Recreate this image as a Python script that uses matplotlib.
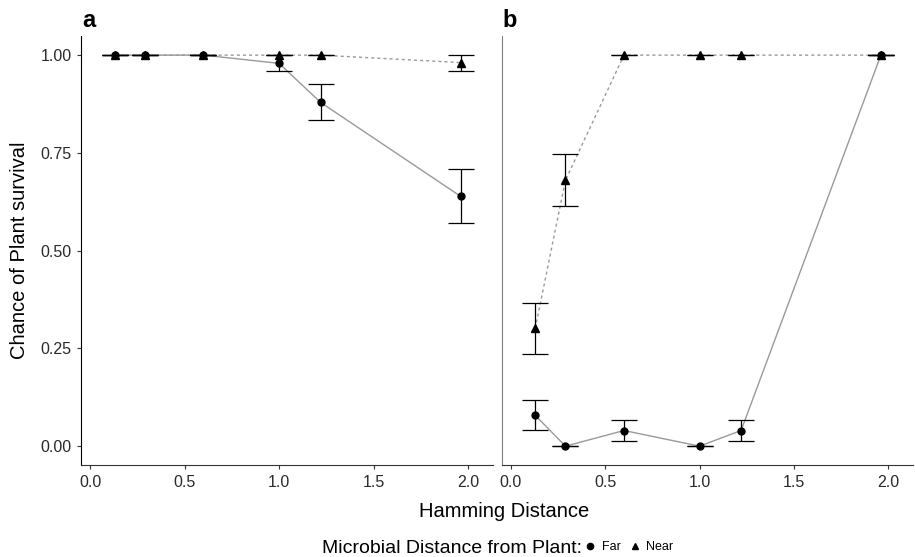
import matplotlib
matplotlib.use("Agg")
import matplotlib.pyplot as plt
from matplotlib.lines import Line2D

plt.rcParams["font.family"] = ["Liberation Sans", "DejaVu Sans"]

# ================================
# data
# ================================
hamming = [0.13, 0.29, 0.60, 1.00, 1.22, 1.96]

# panel a
a_far = [1.00, 1.00, 1.00, 0.979, 0.879, 0.639]
a_far_lo = [1.00, 1.00, 1.00, 0.959, 0.834, 0.571]
a_far_hi = [1.00, 1.00, 1.00, 1.00, 0.926, 0.708]
a_near = [1.00, 1.00, 1.00, 1.00, 1.00, 0.981]
a_near_lo = [1.00, 1.00, 1.00, 1.00, 1.00, 0.959]
a_near_hi = [1.00, 1.00, 1.00, 1.00, 1.00, 1.00]

# panel b
b_far = [0.079, 0.00, 0.040, 0.00, 0.040, 1.00]
b_far_lo = [0.041, 0.00, 0.012, 0.00, 0.012, 1.00]
b_far_hi = [0.118, 0.00, 0.068, 0.00, 0.068, 1.00]
b_near = [0.301, 0.680, 1.00, 1.00, 1.00, 1.00]
b_near_lo = [0.235, 0.614, 1.00, 1.00, 1.00, 1.00]
b_near_hi = [0.365, 0.746, 1.00, 1.00, 1.00, 1.00]

x_ticks = [0.0, 0.5, 1.0, 1.5, 2.0]
y_ticks = [0.00, 0.25, 0.50, 0.75, 1.00]
y_tick_labels = ["0.00", "0.25", "0.50", "0.75", "1.00"]

LINE_GREY = "#999999"
TICK_GREY = "#333333"


def draw_series(ax, y, lo, hi, marker, ls, msize):
    ax.plot(hamming, y, color=LINE_GREY, lw=1.0, ls=ls, zorder=1)
    err = [[v - l for v, l in zip(y, lo)], [h - v for v, h in zip(y, hi)]]
    ax.errorbar(hamming, y, yerr=err, fmt="none", ecolor="black",
                elinewidth=0.9, capsize=9.6, capthick=0.9, zorder=2)
    ax.plot(hamming, y, ls="none", marker=marker, color="black",
            markersize=msize, zorder=3)


def style_axes(ax):
    ax.set_xlim(-0.046, 2.13)
    ax.set_ylim(-0.049, 1.049)
    ax.set_xticks(x_ticks)
    ax.set_xticklabels(["0.0", "0.5", "1.0", "1.5", "2.0"])
    for side in ["top", "right"]:
        ax.spines[side].set_visible(False)
    ax.spines["bottom"].set_color("#333333")
    ax.tick_params(axis="both", colors=TICK_GREY, labelcolor="#2a2a2a",
                   length=3, width=0.8, labelsize=11.5, pad=4)


fig = plt.figure(figsize=(9.15, 5.57), dpi=100)

# ================================
# panel a
# ================================
ax_a = fig.add_axes([0.0889, 0.1646, 0.4496, 0.7708])
draw_series(ax_a, a_far, a_far_lo, a_far_hi, "o", "-", 5)
draw_series(ax_a, a_near, a_near_lo, a_near_hi, "^", (0, (2.2, 2.2)), 5.5)
style_axes(ax_a)
ax_a.set_yticks(y_ticks)
ax_a.set_yticklabels(y_tick_labels)
ax_a.spines["left"].set_color("black")
ax_a.set_ylabel("Chance of Plant survival", fontsize=14.5, labelpad=8)

# ================================
# panel b
# ================================
ax_b = fig.add_axes([0.5486, 0.1646, 0.4492, 0.7708])
draw_series(ax_b, b_far, b_far_lo, b_far_hi, "o", "-", 5)
draw_series(ax_b, b_near, b_near_lo, b_near_hi, "^", (0, (2.2, 2.2)), 5.5)
style_axes(ax_b)
ax_b.set_yticks([])
ax_b.spines["left"].set_color("#808080")

# panel letters
fig.text(0.0895, 0.951, "a", fontsize=17, fontweight="bold", va="baseline")
fig.text(0.5495, 0.951, "b", fontsize=17, fontweight="bold", va="baseline")

# shared x label
fig.text(0.551, 0.081, "Hamming Distance", fontsize=14.5, ha="center", va="center")

# ================================
# legend at bottom
# ================================
fig.text(0.636, 0.016, "Microbial Distance from Plant:", fontsize=14,
         ha="right", va="center")
handles = [
    Line2D([], [], ls="none", marker="o", color="black", markersize=4.5),
    Line2D([], [], ls="none", marker="^", color="black", markersize=5),
]
fig.legend(handles, ["Far", "Near"], loc="center left",
           bbox_to_anchor=(0.638, 0.018), ncol=2, frameon=False,
           fontsize=9, handlelength=1.0, handletextpad=0.45,
           columnspacing=0.6, borderpad=0, borderaxespad=0)

fig.savefig("out.png", dpi=100)
